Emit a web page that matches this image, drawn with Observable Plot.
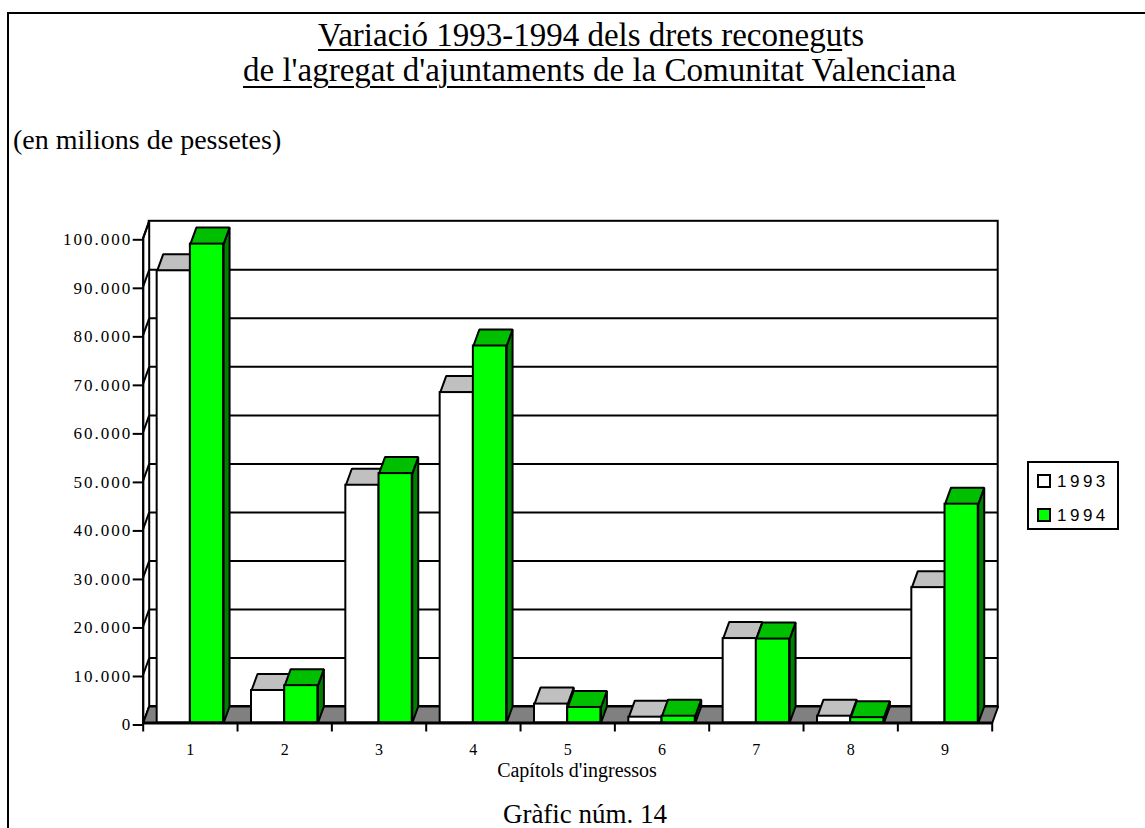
<!DOCTYPE html>
<html>
<head>
<meta charset="utf-8">
<script src="https://cdn.jsdelivr.net/npm/d3@7"></script>
<script src="https://cdn.jsdelivr.net/npm/@observablehq/plot@0.6"></script>
<style>
html,body{margin:0;padding:0;background:#fff;width:1145px;height:828px;overflow:hidden}
#page{position:relative;width:1145px;height:828px;overflow:hidden;background:#fff}
#frame{position:absolute;left:7px;top:12px;width:1300px;height:1000px;border-left:2px solid #000;border-top:2px solid #000;box-sizing:border-box}
.t{position:absolute;white-space:nowrap;font-family:"Liberation Serif","Times New Roman",serif;color:#000;line-height:1}
.u{text-decoration:underline;text-decoration-thickness:2px}
#chart{position:absolute;left:0;top:0}
#legend{position:absolute;left:1027px;top:461px;width:92px;height:69px;border:2px solid #000;box-sizing:border-box;background:#fff}
.li{position:absolute;left:8px;font-family:"Liberation Sans",Arial,sans-serif;font-size:17px;letter-spacing:3.5px;line-height:1;white-space:nowrap}
.sw{display:inline-block;width:14px;height:14px;border:2px solid #000;box-sizing:border-box;vertical-align:baseline;margin-right:6px;position:relative;top:1px}
</style>
</head>
<body>
<div id="page">
  <div id="frame"></div>
  <div class="t" id="title1" style="left:318px;top:19px;font-size:33px"></div>
  <div class="t" id="title2" style="left:243px;top:54px;font-size:33px"></div>
  <div class="t" id="unit" style="left:13px;top:126px;font-size:28px"></div>
  <div id="chart"></div>
  <div class="t" id="xlabel" style="left:577px;top:760px;font-size:20px;transform:translateX(-50%)"></div>
  <div class="t" id="caption" style="left:585px;top:803px;font-size:27px;line-height:0.85;transform:translateX(-50%)"></div>
  <div id="legend"></div>
</div>
<script>
// ---- data ----
const categories = ["1", "2", "3", "4", "5", "6", "7", "8", "9"];
const seriesNames = ["1993", "1994"];
const values1993 = [93200, 6700, 49000, 68100, 3900, 1200, 17400, 1400, 27900];
const values1994 = [98700, 7700, 51400, 77700, 3200, 1400, 17300, 1100, 45100];
const yTicks = [0, 10000, 20000, 30000, 40000, 50000, 60000, 70000, 80000, 90000, 100000];
const titleLine1 = ["Variació 1993-1994 dels drets recone", "gu", "ts"];
const titleLine2 = ["de l'agregat d'ajuntaments de la Comunitat Valencia", "", "na"];
const unitText = "(en milions de pessetes)";
const xAxisLabel = "Capítols d'ingressos";
const captionText = "Gràfic núm. 14";

// ---- styles ----
const colors = {
  front: ["#ffffff", "#00ff00"],
  top: ["#c0c0c0", "#00bf00"],
  side: ["#808080", "#008000"]
};
const DX = 0.0636;   // depth offset in category units
const DY = 3400;     // depth offset in value units
const GAP = 0.148;
const BW = 0.352;
const SERIF = '"Liberation Serif", "Times New Roman", serif';

// ---- texts ----
function setUnderlined(el, parts, offset) {
  el.innerHTML = "";
  const a = document.createElement("span");
  a.className = "u"; a.style.textUnderlineOffset = offset + "px";
  a.textContent = parts[0] + parts[1];
  el.appendChild(a);
  el.appendChild(document.createTextNode(parts[2]));
}
setUnderlined(document.getElementById("title1"), titleLine1, 3);
setUnderlined(document.getElementById("title2"), titleLine2, 5);
document.getElementById("unit").textContent = unitText;
document.getElementById("xlabel").textContent = xAxisLabel;
document.getElementById("caption").textContent = captionText;

// legend
const legend = document.getElementById("legend");
seriesNames.forEach((name, s) => {
  const row = document.createElement("div");
  row.className = "li";
  row.style.top = (s === 0 ? 10 : 44) + "px";
  const sw = document.createElement("span");
  sw.className = "sw"; sw.style.background = colors.front[s];
  row.appendChild(sw);
  row.appendChild(document.createTextNode(name));
  legend.appendChild(row);
});

// ---- geometry from data ----
const allSeries = [values1993, values1994];
function barsFor(s) {
  return allSeries[s].map((v, i) => {
    const x1 = i + GAP + s * BW;
    return {i, v, x1, x2: x1 + BW, name: seriesNames[s]};
  });
}
function poly(id, pts) {
  const out = pts.map(([x, y]) => ({id, x, y}));
  out.push({id, x: pts[0][0], y: pts[0][1]});
  return out;
}
function topFaces(bars) {
  return bars.flatMap(b => poly("t" + b.i, [[b.x1, b.v], [b.x2, b.v], [b.x2 + DX, b.v + DY], [b.x1 + DX, b.v + DY]]));
}
function sideFaces(bars) {
  return bars.flatMap(b => poly("s" + b.i, [[b.x2, 0], [b.x2 + DX, DY], [b.x2 + DX, b.v + DY], [b.x2, b.v]]));
}
const n = categories.length;
const yMax = yTicks[yTicks.length - 1];
const floorPoly = poly("floor", [[0, 0], [n, 0], [n + DX, DY], [DX, DY]]);
const leftWall = poly("lw", [[0, 0], [DX, DY], [DX, yMax + DY], [0, yMax]]);
const fmt = d => d3.format(",")(d).replace(/,/g, ".");

const barMarks = [];
[0, 1].forEach(s => {
  const bars = barsFor(s);
  barMarks.push(
    Plot.line(sideFaces(bars), {x: "x", y: "y", z: "id", fill: colors.side[s], stroke: "#000", strokeWidth: 2, strokeLinejoin: "miter"}),
    Plot.line(topFaces(bars), {x: "x", y: "y", z: "id", fill: colors.top[s], stroke: "#000", strokeWidth: 2, strokeLinejoin: "miter"}),
    Plot.rect(bars, {x1: "x1", x2: "x2", y1: 0, y2: "v", fill: colors.front[s], stroke: "#000", strokeWidth: 2})
  );
});

const chart = Plot.plot({
  width: 1145,
  height: 828,
  marginLeft: 142.7,
  marginRight: 153.3,
  marginTop: 237.3,
  marginBottom: 105.5,
  style: {color: "#000", background: "transparent", overflow: "visible"},
  x: {domain: [0, n]},
  y: {domain: [0, yMax]},
  marks: [
    // back wall
    Plot.rect([0], {x1: DX, x2: n + DX, y1: DY, y2: yMax + DY, fill: "#fff", stroke: "#000", strokeWidth: 2}),
    Plot.ruleY(yTicks.slice(1, -1), {y: d => d + DY, x1: DX, x2: n + DX, stroke: "#000", strokeWidth: 2}),
    // left wall
    Plot.line(leftWall, {x: "x", y: "y", z: "id", fill: "#fff", stroke: "#000", strokeWidth: 2}),
    Plot.link(yTicks, {x1: 0, y1: d => d, x2: DX, y2: d => d + DY, stroke: "#000", strokeWidth: 2}),
    // floor
    Plot.line(floorPoly, {x: "x", y: "y", z: "id", fill: "#808080", stroke: "#000", strokeWidth: 2, strokeLinejoin: "miter"}),
    ...barMarks,
    // front axes
    Plot.ruleX([0], {y1: 0, y2: yMax, stroke: "#000", strokeWidth: 2}),
    Plot.ruleY([0], {x1: 0, x2: n, stroke: "#000", strokeWidth: 3}),
    Plot.axisY({ticks: yTicks, tickSize: 10, tickPadding: 1, tickFormat: fmt, dy: 2, strokeWidth: 2, label: null}),
    Plot.axisX({ticks: d3.range(n + 1), tickSize: 9, tickFormat: () => "", strokeWidth: 2, label: null}),
    Plot.axisX({ticks: d3.range(n).map(i => i + 0.5), tickSize: 0, tickPadding: 21, tickFormat: d => categories[Math.floor(d)], label: null})
  ]
});
// force tick label typography
chart.querySelectorAll("text").forEach(t => {
  const g = t.closest("[aria-label]");
  const lab = g ? g.getAttribute("aria-label") : "";
  if (lab.startsWith("y-axis")) {
    t.style.fontSize = "17px";
    t.style.fontFamily = SERIF;
    t.style.letterSpacing = "2px";
  } else if (lab.startsWith("x-axis")) {
    t.style.fontSize = "16px";
    t.style.fontFamily = SERIF;
  }
});
document.getElementById("chart").appendChild(chart);
</script>
</body>
</html>
